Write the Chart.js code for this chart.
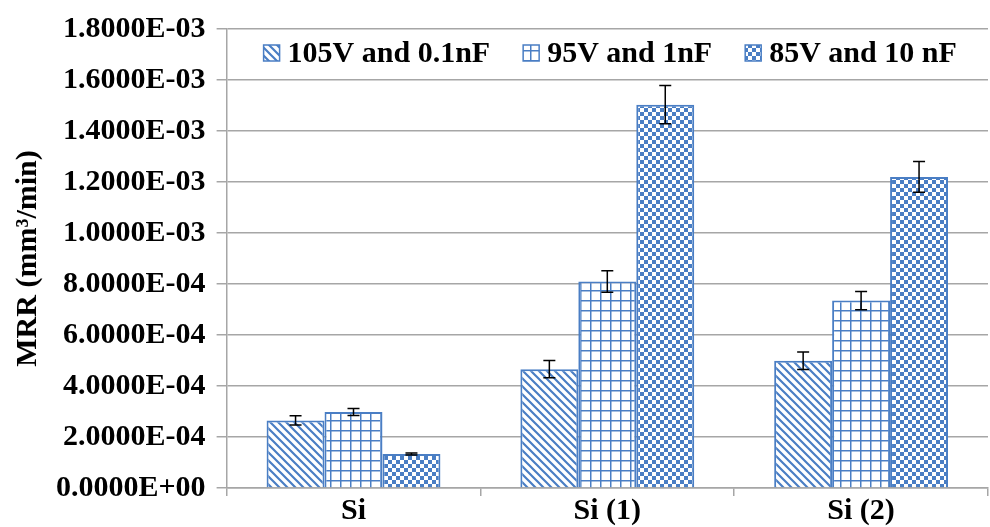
<!DOCTYPE html>
<html lang="en">
<head>
    <meta charset="UTF-8">
    <title>MRR</title>
    <script src="https://cdn.jsdelivr.net/npm/chart.js"></script>
    <style>
        html, body { margin: 0; padding: 0; background: #fff; }
        #wrap { width: 990px; height: 527px; position: relative; }
    </style>
</head>
<body>
    <div id="wrap"><canvas id="mrrChart"></canvas></div>
    <script>
        // data
        const categories = ['Si', 'Si (1)', 'Si (2)'];
        const seriesNames = ['105V and 0.1nF', '95V and 1nF', '85V and 10 nF'];
        const mrr105 = [2.65e-4, 4.66e-4, 4.99e-4];
        const mrr95 = [2.98e-4, 8.10e-4, 7.35e-4];
        const mrr85 = [1.33e-4, 15.03e-4, 12.20e-4];
        const err105 = [0.18e-4, 0.34e-4, 0.34e-4];
        const err95 = [0.14e-4, 0.42e-4, 0.36e-4];
        const err85 = [0.04e-4, 0.75e-4, 0.60e-4];
        const yTicks = [0, 2e-4, 4e-4, 6e-4, 8e-4, 1e-3, 1.2e-3, 1.4e-3, 1.6e-3, 1.8e-3];

        const BLUE = '#4a7ec4';
        const GRID = '#a6a6a6';
        const FONT = '"Liberation Serif", "Times New Roman", serif';

        // hatch patterns
        function makeTile(w, h, draw) {
            const c = document.createElement('canvas');
            c.width = w; c.height = h;
            const g = c.getContext('2d');
            g.fillStyle = '#fff';
            g.fillRect(0, 0, w, h);
            draw(g, w, h);
            return g.createPattern(c, 'repeat');
        }
        const diagPattern = makeTile(8, 8, (g, w, h) => {
            g.strokeStyle = BLUE;
            g.lineWidth = 2.2;
            g.beginPath();
            g.moveTo(-2, -2); g.lineTo(w + 2, h + 2);
            g.moveTo(-2, h - 2); g.lineTo(2, h + 2);
            g.moveTo(w - 2, -2); g.lineTo(w + 2, 2);
            g.stroke();
        });
        const gridPattern = makeTile(10, 10, (g, w, h) => {
            g.fillStyle = BLUE;
            g.fillRect(0, 0, w, 1.5);
            g.fillRect(0, 0, 1.5, h);
        });
        const checkPattern = makeTile(8, 8, (g, w, h) => {
            g.fillStyle = BLUE;
            g.fillRect(0, 0, 4, 4);
            g.fillRect(4, 4, 4, 4);
        });

        function sciLabel(v) {
            return Number(v).toExponential(4).toUpperCase().replace(/E([+-])(\d)$/, 'E$10$2');
        }

        const errorBars = {
            id: 'errorBars',
            afterDatasetsDraw(chart) {
                const ctx = chart.ctx;
                const y = chart.scales.y;
                ctx.save();
                ctx.strokeStyle = '#000';
                ctx.lineWidth = 1.5;
                chart.data.datasets.forEach((ds, i) => {
                    const meta = chart.getDatasetMeta(i);
                    meta.data.forEach((bar, j) => {
                        const v = ds.data[j], e = ds.errors[j];
                        const top = y.getPixelForValue(v + e);
                        const bot = y.getPixelForValue(v - e);
                        ctx.beginPath();
                        ctx.moveTo(bar.x, top); ctx.lineTo(bar.x, bot);
                        ctx.moveTo(bar.x - 6, top); ctx.lineTo(bar.x + 6, top);
                        ctx.moveTo(bar.x - 6, bot); ctx.lineTo(bar.x + 6, bot);
                        ctx.stroke();
                    });
                });
                ctx.restore();
            }
        };

        // legend drawn inside the plot, one row along the top
        const innerLegend = {
            id: 'innerLegend',
            afterDraw(chart) {
                const ctx = chart.ctx;
                const area = chart.chartArea;
                let x = area.left + 37;
                const yMid = area.top + 24;
                ctx.save();
                ctx.font = 'bold 30px ' + FONT;
                ctx.textBaseline = 'middle';
                ctx.fillStyle = '#000';
                chart.data.datasets.forEach(ds => {
                    ctx.fillStyle = ds.backgroundColor;
                    ctx.fillRect(x, yMid - 8, 16, 16);
                    ctx.strokeStyle = BLUE;
                    ctx.lineWidth = 1.5;
                    ctx.strokeRect(x, yMid - 8, 16, 16);
                    ctx.fillStyle = '#000';
                    ctx.fillText(ds.label, x + 24, yMid + 1);
                    x += 24 + ctx.measureText(ds.label).width + 33;
                });
                ctx.restore();
            }
        };

        function barSet(label, data, errors, fill) {
            return {
                label: label,
                data: data,
                errors: errors,
                backgroundColor: fill,
                borderColor: BLUE,
                borderWidth: 2,
                categoryPercentage: 0.685,
                barPercentage: 1.0
            };
        }

        new Chart(document.getElementById('mrrChart'), {
            type: 'bar',
            data: {
                labels: categories,
                datasets: [
                    barSet(seriesNames[0], mrr105, err105, diagPattern),
                    barSet(seriesNames[1], mrr95, err95, gridPattern),
                    barSet(seriesNames[2], mrr85, err85, checkPattern)
                ]
            },
            options: {
                responsive: true,
                maintainAspectRatio: false,
                animation: false,
                layout: { padding: { top: 24, left: 13, right: 2, bottom: 1 } },
                plugins: {
                    tooltip: { enabled: false },
                    legend: { display: false }
                },
                scales: {
                    x: {
                        grid: {
                            display: true,
                            drawOnChartArea: false,
                            offset: true,
                            tickLength: 8,
                            color: GRID,
                            lineWidth: 1.5
                        },
                        border: { color: GRID, width: 1.5 },
                        ticks: {
                            color: '#000',
                            padding: 0,
                            font: { family: FONT, size: 30, weight: 'bold', lineHeight: 1.0 }
                        }
                    },
                    y: {
                        min: 0,
                        max: yTicks[yTicks.length - 1],
                        afterBuildTicks(scale) {
                            scale.ticks = yTicks.map(v => ({ value: v }));
                        },
                        grid: { color: GRID, lineWidth: 1.5, tickLength: 10 },
                        border: { color: GRID, width: 1.5 },
                        ticks: {
                            color: '#000',
                            padding: 11,
                            font: { family: FONT, size: 30, weight: 'bold' },
                            callback: v => sciLabel(v)
                        },
                        title: {
                            display: true,
                            text: 'MRR (mm³/min)',
                            color: '#000',
                            padding: { top: 0, bottom: 2 },
                            font: { family: FONT, size: 30, weight: 'bold', lineHeight: 1.0 }
                        }
                    }
                }
            },
            plugins: [errorBars, innerLegend]
        });
    </script>
</body>
</html>
